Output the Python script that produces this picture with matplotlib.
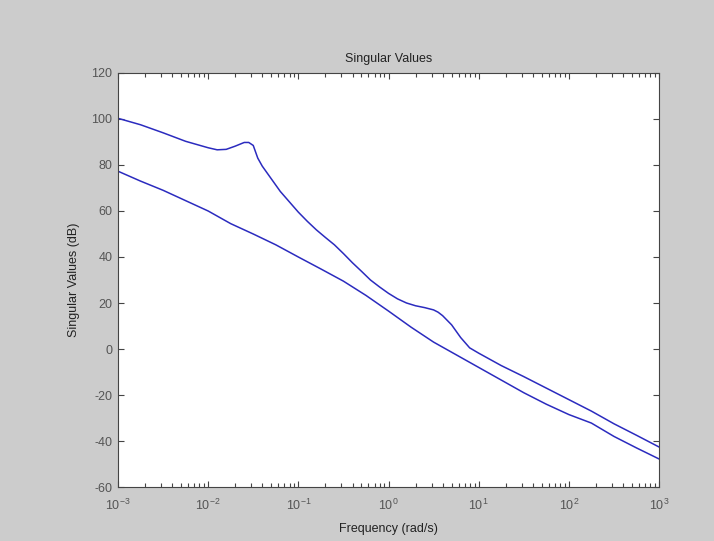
import numpy as np
import matplotlib
matplotlib.use("Agg")
import matplotlib.pyplot as plt
from matplotlib.ticker import LogLocator, FixedLocator, FuncFormatter

plt.rcParams['font.family'] = ['Liberation Sans', 'DejaVu Sans']
plt.rcParams['mathtext.fontset'] = 'custom'
plt.rcParams['mathtext.rm'] = 'Liberation Sans'
plt.rcParams['mathtext.it'] = 'Liberation Sans'
plt.rcParams['axes.unicode_minus'] = False

# singular values (log10 of rad/s, dB)
upper_logw = [-3.0, -2.75, -2.5, -2.25, -2.0, -1.9, -1.8, -1.7, -1.6, -1.55,
              -1.5, -1.45, -1.4, -1.3, -1.2, -1.1, -1.0, -0.9, -0.8, -0.7,
              -0.6, -0.5, -0.4, -0.3, -0.2, -0.1, 0.0, 0.1, 0.2, 0.3,
              0.4, 0.5, 0.55, 0.6, 0.7, 0.8, 0.9, 1.0, 1.25, 1.5,
              1.75, 2.0, 2.25, 2.5, 2.75, 3.0]
upper_db = [100.3, 97.5, 94.0, 90.3, 87.5, 86.6, 86.8, 88.2, 89.8, 89.8,
            88.5, 83.0, 79.5, 74.0, 68.5, 64.0, 59.5, 55.5, 51.8, 48.5,
            45.3, 41.5, 37.5, 33.8, 30.0, 27.0, 24.2, 21.8, 20.0, 18.8,
            18.0, 17.0, 16.0, 14.5, 10.5, 5.0, 0.5, -1.8, -7.2, -12.0,
            -17.0, -22.0, -27.0, -32.5, -37.5, -42.6]

lower_logw = [-3.0, -2.75, -2.5, -2.25, -2.0, -1.75, -1.5, -1.25, -1.0, -0.75,
              -0.5, -0.25, 0.0, 0.25, 0.5, 0.75, 1.0, 1.25, 1.5, 1.75,
              2.0, 2.25, 2.5, 2.75, 3.0]
lower_db = [77.3, 73.0, 69.0, 64.5, 60.0, 54.5, 50.0, 45.3, 40.0, 34.8,
            29.5, 23.3, 16.5, 9.5, 3.0, -2.5, -8.0, -13.5, -19.0, -24.0,
            -28.5, -32.2, -38.0, -43.0, -47.8]

yticks = [-60, -40, -20, 0, 20, 40, 60, 80, 100, 120]
xticks = [1e-3, 1e-2, 1e-1, 1e0, 1e1, 1e2, 1e3]

fig = plt.figure(figsize=(7.14, 5.41), dpi=100, facecolor='#cccccc')
ax = fig.add_axes([118 / 714, 54 / 541, 541 / 714, 414 / 541])
ax.set_facecolor('white')

line_col = '#2b2bbf'
ax.semilogx(10 ** np.array(upper_logw), upper_db, color=line_col, lw=1.1)
ax.semilogx(10 ** np.array(lower_logw), lower_db, color=line_col, lw=1.1)

ax.set_xlim(1e-3, 1e3)
ax.set_ylim(-60, 120)
ax.xaxis.set_major_locator(FixedLocator(xticks))
ax.xaxis.set_minor_locator(LogLocator(base=10, subs=np.arange(2, 10), numticks=20))
ax.xaxis.set_major_formatter(FuncFormatter(lambda v, p: r'$10^{%d}$' % round(np.log10(v))))
ax.set_yticks(yticks)

for sp in ax.spines.values():
    sp.set_color('#444444')
    sp.set_linewidth(0.8)
ax.tick_params(which='both', direction='in', top=True, right=True,
               colors='#444444', labelcolor='#555555', labelsize=9, width=0.8)
ax.tick_params(which='major', length=4.2)
ax.tick_params(which='minor', length=2.8)
ax.tick_params(axis='x', pad=8)
ax.tick_params(axis='y', pad=4)

ax.set_title('Singular Values', fontsize=9, color='#222222', pad=8)
ax.set_xlabel('Frequency (rad/s)', fontsize=9, color='#222222', labelpad=7)
ax.set_ylabel('Singular Values (dB)', fontsize=9, color='#222222', labelpad=8)

fig.savefig('out.png', dpi=100, facecolor=fig.get_facecolor())
